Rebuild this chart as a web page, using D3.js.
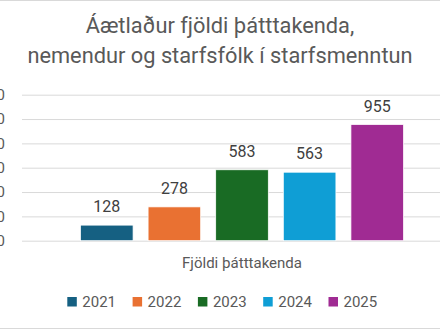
<!DOCTYPE html>
<html><head><meta charset="utf-8">
<script src="https://cdn.jsdelivr.net/npm/d3@7/dist/d3.min.js"></script>
<style>body{margin:0;background:#fff}svg{display:block}text{font-family:Roboto,"Noto Sans",sans-serif}</style>
</head><body>
<script>
const titleLines = ["Áætlaður fjöldi þátttakenda,", "nemendur og starfsfólk í starfsmenntun"];
const category = "Fjöldi þátttakenda";
const years = ["2021", "2022", "2023", "2024", "2025"];
const values = [128, 278, 583, 563, 955];
const colors = ["#156082", "#E97132", "#196B24", "#0F9ED5", "#A02B93"];
const yTicks = [0, 200, 400, 600, 800, 1000, 1200];

const W = 440, H = 330;
const svg = d3.select("body").append("svg").attr("width", W).attr("height", H);
svg.append("rect").attr("x", -1).attr("y", 0.5).attr("width", W + 2).attr("height", H - 2).attr("fill", "#fff").attr("stroke", "#d9d9d9").attr("stroke-width", 1);

const plotL = 22, plotR = 462, plotT = 94.7, plotB = 240.7;
const y = d3.scaleLinear().domain([0, 1200]).range([plotB, plotT]);
const x0 = d3.scaleBand().domain([category]).range([plotL, plotR]).paddingOuter(0.181).paddingInner(0);
const x1 = d3.scaleBand().domain(years).range([0, x0.bandwidth()]).paddingInner(0.222).paddingOuter(0);

// gridlines + tick labels (the reference crops them at the left edge)
const yAxis = d3.axisLeft(y).tickValues(yTicks).tickSize(-(plotR - plotL)).tickPadding(17);
const ga = svg.append("g").attr("transform", `translate(${plotL},0)`).call(yAxis);
ga.select(".domain").remove();
ga.selectAll(".tick line").attr("stroke", "#d9d9d9").attr("stroke-width", 1);
ga.selectAll(".tick text").attr("fill", "#595959").style("font-size", "15px").style("font-family", "Roboto");

// bars
const g = svg.append("g").attr("transform", `translate(${x0(category)},0)`);
g.selectAll("rect").data(years).join("rect")
  .attr("x", d => x1(d)).attr("width", x1.bandwidth())
  .attr("y", (d, i) => y(values[i])).attr("height", (d, i) => y(0) - y(values[i]))
  .attr("fill", (d, i) => colors[i]).attr("stroke", "#fff").attr("stroke-width", 0.75);
g.selectAll("text.lbl").data(years).join("text").attr("class", "lbl")
  .attr("x", d => x1(d) + x1.bandwidth() / 2).attr("y", (d, i) => y(values[i]) - 13)
  .attr("text-anchor", "middle").attr("fill", "#404040").style("font-size", "16px")
  .text((d, i) => values[i]);

// title
svg.append("g").selectAll("text").data(titleLines).join("text")
  .attr("x", 220).attr("y", (d, i) => 32.5 + i * 30)
  .attr("text-anchor", "middle").attr("fill", "#595959").style("font-size", "21.8px")
  .text(d => d);

// axis title
svg.append("text").attr("x", x0(category) + x0.bandwidth() / 2).attr("y", 267.5)
  .attr("text-anchor", "middle").attr("fill", "#595959").style("font-size", "15px").text(category);

// legend
const lg = svg.append("g").selectAll("g").data(years).join("g")
  .attr("transform", (d, i) => `translate(${67.3 + i * 65.3},297)`);
lg.append("rect").attr("width", 9.5).attr("height", 9.5).attr("fill", (d, i) => colors[i]);
lg.append("text").attr("x", 15).attr("y", 10).attr("fill", "#595959").style("font-size", "15px").text(d => d);
</script>
</body></html>
